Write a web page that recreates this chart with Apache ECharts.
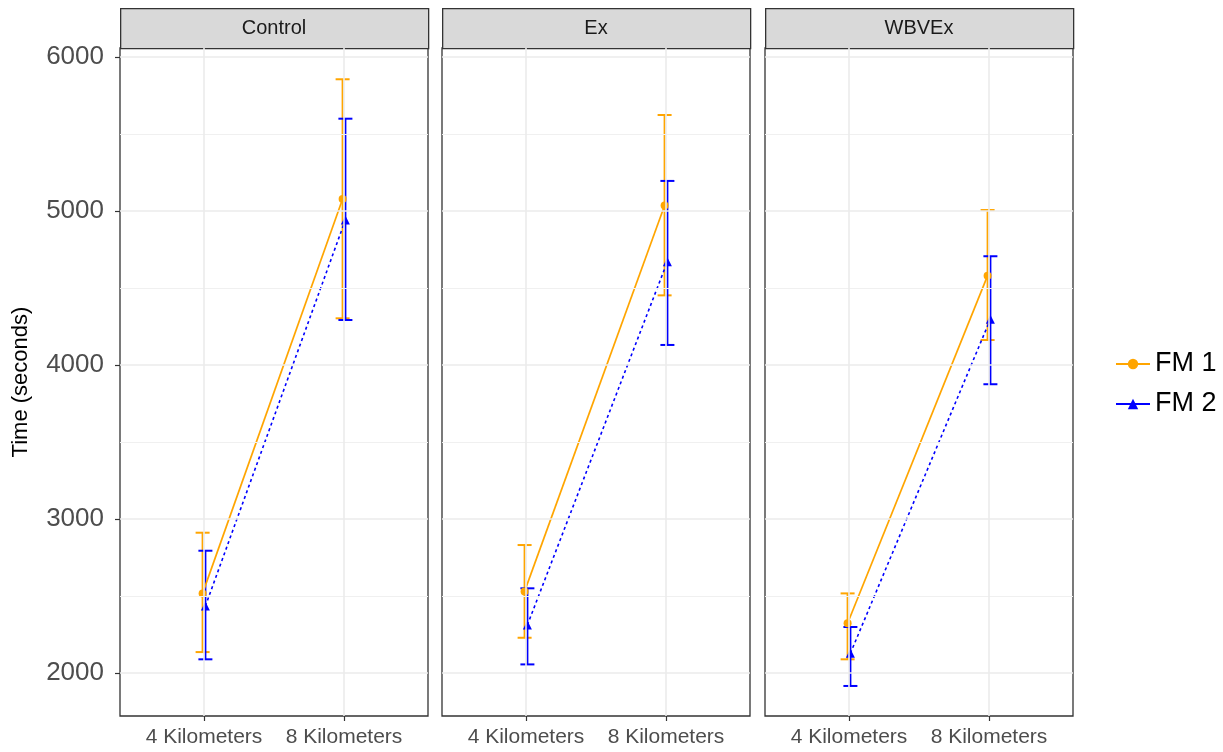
<!DOCTYPE html>
<html>
<head>
<meta charset="utf-8">
<script src="https://cdn.jsdelivr.net/npm/echarts@6/dist/echarts.min.js"></script>
<style>
html,body{margin:0;padding:0;background:#fff;}
#chart{width:1223px;height:752px;}
</style>
</head>
<body>
<div id="chart"></div>
<script>
// ---- data ----
const panels = ['Control', 'Ex', 'WBVEx'];
const categories = ['4 Kilometers', '8 Kilometers'];
const groups = ['FM 1', 'FM 2'];
const yTicks = [2000, 3000, 4000, 5000, 6000];

// per panel: [4 km, 8 km]
const fm1Mean  = [[2517, 5078], [2530, 5035], [2323, 4580]];
const fm1Lower = [[2136, 4303], [2229, 4452], [2089, 4162]];
const fm1Upper = [[2911, 5855], [2831, 5623], [2517, 5006]];
const fm2Mean  = [[2435, 4942], [2312, 4671], [2128, 4297]];
const fm2Lower = [[2089, 4292], [2056, 4130], [1916, 3875]];
const fm2Upper = [[2794, 5599], [2550, 5195], [2299, 4706]];

// ---- style / layout ----
const colors = ['#FFA500', '#0000FF'];
const DODGE = 0.01;
const ERR_W = 0.1;
const Y_MIN = 1721, Y_MAX = 6058;
const panelLeft = [120, 442, 765];
const panelW = 308, panelTop = 48, panelH = 668, stripTop = 8;
const FONT = 'Liberation Sans, Arial, sans-serif';

const means = [fm1Mean, fm2Mean], lowers = [fm1Lower, fm2Lower], uppers = [fm1Upper, fm2Upper];
const minorTicks = yTicks.slice(0, -1).map((v, i) => (v + yTicks[i + 1]) / 2);

const grid = [], xAxis = [], yAxis = [], series = [], graphic = [];

panels.forEach((p, pi) => {
  grid.push({
    left: panelLeft[pi], top: panelTop, width: panelW, height: panelH,
    show: true, borderColor: '#333333', borderWidth: 1.3, backgroundColor: '#ffffff'
  });
  xAxis.push({
    type: 'value', gridIndex: pi, min: 0.4, max: 2.6,
    axisLine: { show: false },
    splitLine: { show: false },
    axisTick: { show: true, customValues: [1, 2], length: 5, lineStyle: { color: '#333333', width: 1.2 } },
    axisLabel: {
      show: true, customValues: [1, 2], margin: 11,
      formatter: v => categories[Math.round(v) - 1],
      fontSize: 21, color: '#4d4d4d', fontFamily: FONT
    }
  });
  yAxis.push({
    type: 'value', gridIndex: pi, min: Y_MIN, max: Y_MAX,
    axisLine: { show: false },
    splitLine: { show: false },
    axisTick: { show: pi === 0, customValues: yTicks, length: 5, lineStyle: { color: '#333333', width: 1.2 } },
    axisLabel: {
      show: pi === 0, customValues: yTicks, margin: 16,
      formatter: v => String(Math.round(v)),
      fontSize: 26, color: '#4d4d4d', fontFamily: FONT
    },
    name: pi === 0 ? 'Time (seconds)' : '',
    nameLocation: 'middle', nameGap: 88,
    nameTextStyle: { fontSize: 22, color: '#000000', fontFamily: FONT }
  });

  // grid lines
  series.push({
    type: 'line', xAxisIndex: pi, yAxisIndex: pi, data: [], z: 1, silent: true,
    markLine: {
      silent: true, symbol: 'none', animation: false, label: { show: false },
      data: [
        ...minorTicks.map(v => ({ yAxis: v, lineStyle: { color: '#f0f0f0', width: 1, type: 'solid' } })),
        ...yTicks.map(v => ({ yAxis: v, lineStyle: { color: '#ebebeb', width: 1.6, type: 'solid' } })),
        ...categories.map((c, ci) => ({ xAxis: ci + 1, lineStyle: { color: '#ebebeb', width: 1.6, type: 'solid' } }))
      ]
    }
  });

  groups.forEach((g, gi) => {
    const off = gi === 0 ? -DODGE : DODGE;
    // error bars
    series.push({
      type: 'custom', xAxisIndex: pi, yAxisIndex: pi, z: 3, silent: true,
      data: categories.map((c, ci) => [ci + 1 + off, lowers[gi][pi][ci], uppers[gi][pi][ci]]),
      encode: { x: 0, y: [1, 2] },
      renderItem: (params, api) => {
        const x = api.value(0), lo = api.value(1), hi = api.value(2);
        const a = api.coord([x, lo]), b = api.coord([x, hi]);
        const hw = api.coord([x + ERR_W / 2, lo])[0] - a[0];
        const st = { stroke: colors[gi], lineWidth: 2 };
        return {
          type: 'group', children: [
            { type: 'line', shape: { x1: a[0], y1: a[1], x2: b[0], y2: b[1] }, style: st },
            { type: 'line', shape: { x1: a[0] - hw, y1: a[1], x2: a[0] + hw, y2: a[1] }, style: st },
            { type: 'line', shape: { x1: b[0] - hw, y1: b[1], x2: b[0] + hw, y2: b[1] }, style: st }
          ]
        };
      }
    });
    // mean line + points
    series.push({
      type: 'line', name: g, xAxisIndex: pi, yAxisIndex: pi, z: 4,
      data: categories.map((c, ci) => [ci + 1 + off, means[gi][pi][ci]]),
      symbol: gi === 0 ? 'circle' : 'triangle',
      symbolSize: gi === 0 ? 8 : 9,
      itemStyle: { color: colors[gi] },
      lineStyle: { color: colors[gi], width: gi === 0 ? 1.7 : 1.6, type: gi === 0 ? 'solid' : [3, 3] },
      emphasis: { disabled: true }
    });
  });

  // strip
  graphic.push({
    type: 'rect', left: panelLeft[pi], top: stripTop,
    shape: { width: panelW, height: panelTop - stripTop },
    style: { fill: '#d9d9d9', stroke: '#333333', lineWidth: 1.3 }
  });
  graphic.push({
    type: 'text', x: panelLeft[pi] + panelW / 2, y: (stripTop + panelTop) / 2,
    style: {
      text: p, fill: '#1a1a1a', fontSize: 20, align: 'center', verticalAlign: 'middle',
      fontFamily: FONT
    }
  });
});

const chart = echarts.init(document.getElementById('chart'), null, { renderer: 'canvas' });
chart.setOption({
  animation: false,
  backgroundColor: '#ffffff',
  grid, xAxis, yAxis, series, graphic,
  legend: {
    orient: 'vertical', left: 1115, top: 349, padding: 0,
    itemWidth: 34, itemHeight: 13, itemGap: 10,
    textStyle: { fontSize: 27, color: '#000000', lineHeight: 30, fontFamily: FONT },
    data: [
      { name: 'FM 1' },
      { name: 'FM 2', lineStyle: { type: 'solid' } }
    ]
  }
});
</script>
</body>
</html>
